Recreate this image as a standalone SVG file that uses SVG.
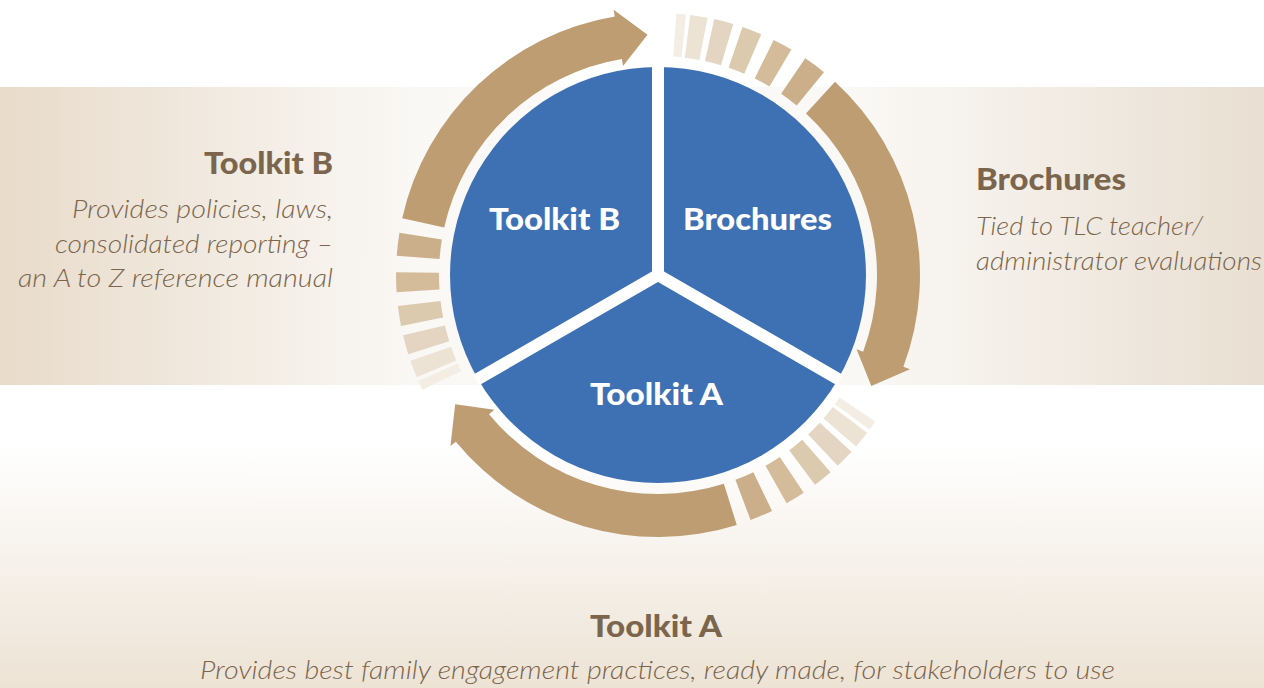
<svg xmlns="http://www.w3.org/2000/svg" xmlns:xlink="http://www.w3.org/1999/xlink" width="1264" height="688" viewBox="0 0 1264 688">
<defs>
<style>
.bold{font-family:Lato,"Open Sans","Liberation Sans",sans-serif;font-weight:900;font-size:30px;}
.pie{fill:#ffffff;}
.lbl{fill:#7b664d;}
.desc{font-family:Lato,"Open Sans","Liberation Sans",sans-serif;font-style:italic;font-weight:300;font-size:26px;fill:#7b664d;}
.sector{fill:#3e71b3;}
.arrow{fill:#be9d72;}
</style>
<linearGradient id="bandGrad" x1="0" y1="0" x2="1264" y2="0" gradientUnits="userSpaceOnUse">
<stop offset="0" stop-color="#e8dbca"/>
<stop offset="0.33" stop-color="#faf8f5"/>
<stop offset="0.5" stop-color="#fcfbfa"/>
<stop offset="0.68" stop-color="#faf8f5"/>
<stop offset="1" stop-color="#e9dfd2"/>
</linearGradient>
<linearGradient id="bottomGrad" x1="0" y1="385" x2="0" y2="688" gradientUnits="userSpaceOnUse">
<stop offset="0" stop-color="#ffffff"/>
<stop offset="0.2" stop-color="#ffffff"/>
<stop offset="1" stop-color="#ede3d5"/>
</linearGradient>
<g id="third">
<path class="arrow" d="M402.21 218.29 A262 262 0 0 1 614.76 16.59 L613.60 9.69 L647.51 34.73 L623.01 65.91 L621.85 59.00 A219 219 0 0 0 444.19 227.60 Z"/>
<path fill="#f3ede4" d="M673.28 56.53 L676.28 13.64 A262 262 0 0 1 686.07 14.51 L681.46 57.26 A219 219 0 0 0 673.28 56.53 Z"/>
<path fill="#ede3d5" d="M684.88 57.66 L690.16 14.98 A262 262 0 0 1 707.54 17.73 L699.41 59.95 A219 219 0 0 0 684.88 57.66 Z"/>
<path fill="#e4d5c2" d="M705.03 61.11 L714.26 19.11 A262 262 0 0 1 733.29 24.05 L720.93 65.24 A219 219 0 0 0 705.03 61.11 Z"/>
<path fill="#dccaaf" d="M728.58 67.68 L742.43 26.98 A262 262 0 0 1 761.21 34.19 L744.27 73.71 A219 219 0 0 0 728.58 67.68 Z"/>
<path fill="#d4bc9b" d="M754.69 78.50 L773.68 39.92 A262 262 0 0 1 791.37 49.49 L769.48 86.50 A219 219 0 0 0 754.69 78.50 Z"/>
<path fill="#cbaf8a" d="M781.10 93.87 L805.26 58.31 A262 262 0 0 1 823.95 72.25 L796.71 105.53 A219 219 0 0 0 781.10 93.87 Z"/>
</g>
</defs>

<g id="background">
<rect x="0" y="0" width="1264" height="688" fill="#ffffff"/>
<rect x="0" y="385" width="1264" height="303" fill="url(#bottomGrad)"/>
<rect x="0" y="87" width="1264" height="298" fill="url(#bandGrad)"/>
</g>

<g id="connectors">
<use id="cycle-toolkit-b" xlink:href="#third" href="#third"/>
<use id="cycle-brochures" xlink:href="#third" href="#third" transform="rotate(120 658 275)"/>
<use id="cycle-toolkit-a" xlink:href="#third" href="#third" transform="rotate(240 658 275)"/>
</g>

<g id="node-toolkit-b">
<path class="sector" d="M658 275 L477.87 379 A208 208 0 0 1 658 67 Z"/>
<text class="bold pie" x="554.5" y="230" text-anchor="middle" textLength="131" lengthAdjust="spacingAndGlyphs">Toolkit B</text>
</g>
<g id="node-brochures">
<path class="sector" d="M658 275 L658 67 A208 208 0 0 1 838.13 379 Z"/>
<text class="bold pie" x="757.5" y="230" text-anchor="middle" textLength="149" lengthAdjust="spacingAndGlyphs">Brochures</text>
</g>
<g id="node-toolkit-a">
<path class="sector" d="M658 275 L838.13 379 A208 208 0 0 1 477.87 379 Z"/>
<text class="bold pie" x="656.5" y="405" text-anchor="middle" textLength="133" lengthAdjust="spacingAndGlyphs">Toolkit A</text>
</g>
<g id="pie-gaps">
<path d="M476.14 380 L658 275 L839.86 380 M658 275 L658 65" fill="none" stroke="#ffffff" stroke-width="12" stroke-linejoin="miter"/>
</g>

<g id="desc-toolkit-b">
<text class="bold lbl" x="333" y="174" text-anchor="end" textLength="129" lengthAdjust="spacingAndGlyphs">Toolkit B</text>
<text class="desc" x="333" y="218" text-anchor="end" textLength="261" lengthAdjust="spacingAndGlyphs">Provides policies, laws,</text>
<text class="desc" x="333" y="253" text-anchor="end" textLength="278" lengthAdjust="spacingAndGlyphs">consolidated reporting –</text>
<text class="desc" x="333" y="287" text-anchor="end" textLength="315" lengthAdjust="spacingAndGlyphs">an A to Z reference manual</text>
</g>
<g id="desc-brochures">
<text class="bold lbl" x="976" y="190" textLength="150" lengthAdjust="spacingAndGlyphs">Brochures</text>
<text class="desc" x="976" y="235" textLength="227" lengthAdjust="spacingAndGlyphs">Tied to TLC teacher/</text>
<text class="desc" x="976" y="270" textLength="286" lengthAdjust="spacingAndGlyphs">administrator evaluations</text>
</g>
<g id="desc-toolkit-a">
<text class="bold lbl" x="656" y="637" text-anchor="middle" textLength="132" lengthAdjust="spacingAndGlyphs">Toolkit A</text>
<text class="desc" x="657.5" y="679" text-anchor="middle" textLength="915" lengthAdjust="spacingAndGlyphs">Provides best family engagement practices, ready made, for stakeholders to use</text>
</g>
</svg>
